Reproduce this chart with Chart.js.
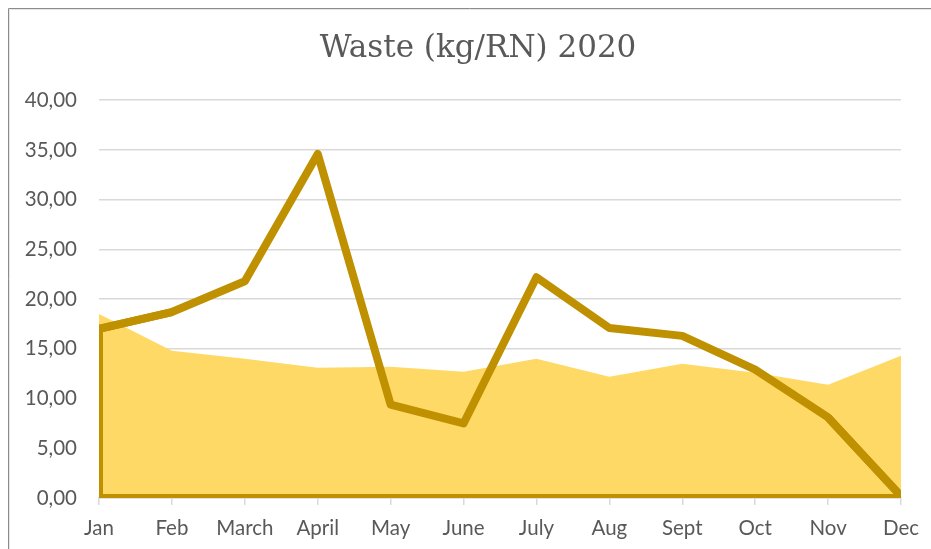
<!DOCTYPE html>
<html>
<head>
<meta charset="utf-8">
<script src="https://cdn.jsdelivr.net/npm/chart.js@4/dist/chart.umd.min.js"></script>
<style>
  html, body { margin: 0; padding: 0; background: #ffffff; }
  #wrap { position: relative; width: 931px; height: 549px; }
</style>
</head>
<body>
<div id="wrap"><canvas id="c" width="931" height="549"></canvas></div>
<script>
const titleText = 'Waste (kg/RN) 2020';
const months = ['Jan', 'Feb', 'March', 'April', 'May', 'June', 'July', 'Aug', 'Sept', 'Oct', 'Nov', 'Dec'];
const wasteArea = [18.5, 14.8, 14.0, 13.1, 13.2, 12.7, 14.0, 12.2, 13.5, 12.6, 11.4, 14.3];
const wasteLine = [17.0, 18.7, 21.8, 34.6, 9.4, 7.5, 22.2, 17.1, 16.3, 12.9, 8.1, 0.2];
const yMin = 0, yMax = 40, yStep = 5;

const DARK = '#BF9000';
const LIGHT = '#FFD966';
const GRID = '#d9d9d9';
const TEXT = '#595959';
const LINE_W = 8;

const frame = {
  id: 'frame',
  beforeDraw(chart) {
    const ctx = chart.ctx;
    ctx.save();
    ctx.strokeStyle = '#8c8c8c';
    ctx.lineWidth = 1;
    ctx.beginPath();
    ctx.moveTo(8.5, chart.height);
    ctx.lineTo(8.5, 8.5);
    ctx.lineTo(chart.width, 8.5);
    ctx.stroke();
    ctx.strokeStyle = '#e6e6e6';
    ctx.beginPath();
    ctx.moveTo(9.5, chart.height);
    ctx.lineTo(9.5, 9.5);
    ctx.lineTo(chart.width, 9.5);
    ctx.stroke();
    ctx.restore();
  }
};

// centre the title over the whole framed chart rather than over the padded box
const titleShift = {
  id: 'titleShift',
  afterLayout(chart) {
    if (chart.titleBlock) chart.titleBlock.left = 55;
  }
};

// closes the outline of the line series down to the zero baseline (area-with-border look)
const outlineClose = {
  id: 'outlineClose',
  afterDatasetsDraw(chart) {
    const pts = chart.getDatasetMeta(0).data;
    if (!pts.length) return;
    const y0 = chart.scales.y.getPixelForValue(0);
    const a = chart.chartArea;
    const ctx = chart.ctx;
    const n = pts.length;
    ctx.save();
    ctx.beginPath();
    ctx.rect(a.left, a.top, a.right - a.left, a.bottom - a.top);
    ctx.clip();
    ctx.beginPath();
    ctx.moveTo(pts[1].x, pts[1].y);
    ctx.lineTo(pts[0].x, pts[0].y);
    ctx.lineTo(pts[0].x, y0);
    ctx.lineTo(pts[n - 1].x, y0);
    ctx.lineTo(pts[n - 1].x, pts[n - 1].y);
    ctx.lineTo(pts[n - 2].x, pts[n - 2].y);
    ctx.lineWidth = LINE_W;
    ctx.strokeStyle = DARK;
    ctx.lineJoin = 'round';
    ctx.stroke();
    ctx.restore();
  }
};

new Chart(document.getElementById('c'), {
  type: 'line',
  data: {
    labels: months,
    datasets: [
      {
        label: 'Waste line',
        data: wasteLine,
        borderColor: DARK,
        borderWidth: LINE_W,
        borderJoinStyle: 'round',
        backgroundColor: 'transparent',
        fill: false,
        pointRadius: 0,
        tension: 0,
        clip: 0
      },
      {
        label: 'Waste area',
        data: wasteArea,
        borderWidth: 0,
        borderColor: 'transparent',
        backgroundColor: LIGHT,
        fill: 'origin',
        pointRadius: 0,
        tension: 0
      }
    ]
  },
  options: {
    responsive: false,
    animation: false,
    layout: { padding: { left: 0, right: 30, top: 0, bottom: 0 } },
    plugins: {
      legend: { display: false },
      tooltip: { enabled: false },
      title: {
        display: true,
        text: titleText,
        color: TEXT,
        font: { family: '"DejaVu Serif", serif', size: 31, weight: 'normal', lineHeight: 1.2 },
        padding: { top: 30, bottom: 33 }
      }
    },
    scales: {
      x: {
        offset: false,
        afterFit(scale) { scale.height = 51; },
        grid: { drawOnChartArea: false, drawTicks: true, tickLength: 7, color: GRID, lineWidth: 1.5 },
        border: { display: true, color: GRID, width: 1.5 },
        ticks: {
          color: TEXT,
          font: { family: 'Lato, "Open Sans", sans-serif', size: 20.5 },
          padding: 11,
          autoSkip: false,
          maxRotation: 0,
          minRotation: 0
        }
      },
      y: {
        min: yMin,
        max: yMax,
        afterFit(scale) { scale.width = 99; },
        grid: { drawTicks: false, color: GRID, lineWidth: 1.5 },
        border: { display: false },
        ticks: {
          stepSize: yStep,
          color: TEXT,
          padding: 22,
          font: { family: 'Lato, "Open Sans", sans-serif', size: 20.5 },
          callback: (v) => Number(v).toFixed(2).replace('.', ',')
        }
      }
    }
  },
  plugins: [frame, titleShift, outlineClose]
});
</script>
</body>
</html>
